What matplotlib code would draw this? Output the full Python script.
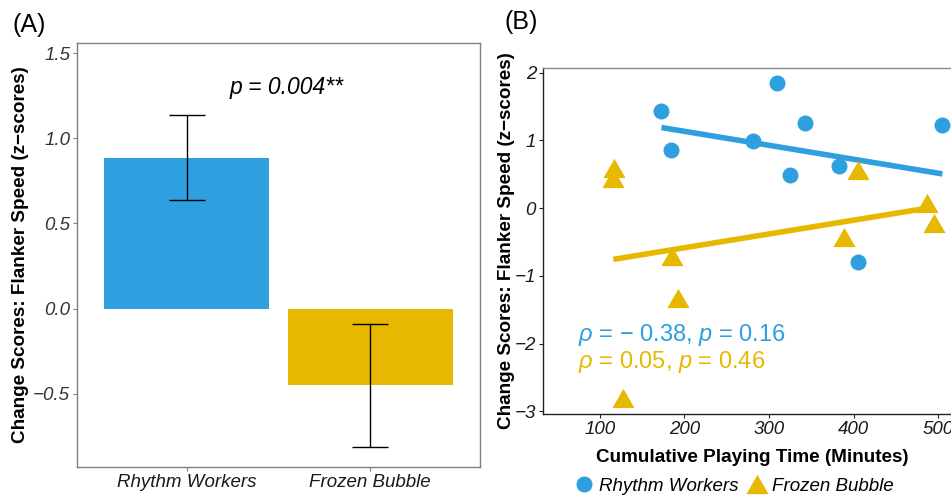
import numpy as np
import matplotlib
matplotlib.use("Agg")
import matplotlib.pyplot as plt
from matplotlib.lines import Line2D

plt.rcParams['font.family'] = ['Liberation Sans', 'DejaVu Sans']
plt.rcParams['mathtext.fontset'] = 'custom'
plt.rcParams['mathtext.rm'] = 'Liberation Sans'
plt.rcParams['mathtext.it'] = 'Liberation Sans:italic'
plt.rcParams['mathtext.bf'] = 'Liberation Sans:bold'

# ---- data ----
groups = ["Rhythm Workers", "Frozen Bubble"]
bar_means = [0.883, -0.45]
err_low = [0.637, -0.81]
err_high = [1.14, -0.088]

rw_time = [173, 184, 281, 309, 343, 325, 383, 505, 405]
rw_score = [1.43, 0.86, 0.99, 1.85, 1.26, 0.49, 0.62, 1.23, -0.80]
fb_time = [117, 116, 405, 487, 495, 389, 186, 192, 128]
fb_score = [0.59, 0.44, 0.56, 0.07, -0.22, -0.43, -0.70, -1.32, -2.80]

blue = "#2E9FDF"
gold = "#E7B800"

fig = plt.figure(figsize=(9.51, 4.98), dpi=100)
W, H = 951, 498

def ax_rect(l, t, r, b):
    return [l / W, 1 - b / H, (r - l) / W, (b - t) / H]

TICK = 13.5
LAB = 13.6

# ---- Panel A ----
axA = fig.add_axes(ax_rect(77, 43, 480, 467))
x = np.arange(len(groups))
axA.bar(x, bar_means, width=0.9, color=[blue, gold], zorder=2)
yerr = [np.array(bar_means) - np.array(err_low), np.array(err_high) - np.array(bar_means)]
axA.errorbar(x, bar_means, yerr=yerr, fmt='none', ecolor='black', elinewidth=1.0,
             capsize=13, capthick=1.0, zorder=3)
axA.set_xlim(-0.6, 1.6)
axA.set_ylim(-0.93, 1.56)
axA.set_xticks(x)
axA.set_xticklabels(groups, fontsize=TICK, fontstyle='italic', color='#1a1a1a')
axA.set_yticks([-0.5, 0.0, 0.5, 1.0, 1.5])
axA.set_yticklabels(['\u22120.5', '0.0', '0.5', '1.0', '1.5'], fontsize=TICK,
                    fontstyle='italic', color='#333333')
for s in axA.spines.values():
    s.set_color('#7f7f7f')
    s.set_linewidth(1.0)
axA.tick_params(axis='both', length=3, width=0.8, color='#7f7f7f', pad=2)
axA.set_ylabel('Change Scores: Flanker Speed (z\u2212scores)', fontsize=LAB,
               fontweight='bold', labelpad=3)
axA.text(0.545, 1.3, 'p = 0.004**', fontsize=16.5, fontstyle='italic', ha='center',
         va='center')
fig.text(13 / W, 1 - 25 / H, '(A)', fontsize=18, va='center', ha='left')

# ---- Panel B ----
axB = fig.add_axes(ax_rect(543, 68, 961, 414))
axB.plot(rw_time, rw_score, 'o', color=blue, markersize=11.5, markeredgewidth=0,
         zorder=3)
tri = [(-1, -0.866), (1, -0.866), (0, 0.866)]
axB.plot(fb_time, fb_score, linestyle='none', marker=tri, color=gold,
         markersize=16, markeredgewidth=0, zorder=3)
for xs, ys, c in [(rw_time, rw_score, blue), (fb_time, fb_score, gold)]:
    xs = np.array(xs, float); ys = np.array(ys, float)
    k, b0 = np.polyfit(xs, ys, 1)
    xx = np.array([xs.min(), xs.max()])
    axB.plot(xx, k * xx + b0, color=c, linewidth=4.0, solid_capstyle='butt', zorder=2)
axB.set_xlim(33, 527)
axB.set_ylim(-3.04, 2.07)
axB.set_xticks([100, 200, 300, 400, 500])
axB.set_xticklabels(['100', '200', '300', '400', '500'], fontsize=TICK,
                    fontstyle='italic', color='#1a1a1a')
axB.set_yticks([-3, -2, -1, 0, 1, 2])
axB.set_yticklabels(['\u22123', '\u22122', '\u22121', '0', '1', '2'], fontsize=TICK,
                    fontstyle='italic', color='#1a1a1a')
axB.spines['top'].set_color('#8a8a8a')
axB.spines['left'].set_color('#222222')
axB.spines['bottom'].set_color('#222222')
for s in axB.spines.values():
    s.set_linewidth(1.0)
axB.tick_params(axis='both', length=3, width=0.8, color='#222222', pad=2)
axB.set_xlabel('Cumulative Playing Time (Minutes)', fontsize=LAB, fontweight='bold',
               labelpad=8)
axB.set_ylabel('Change Scores: Flanker Speed (z\u2212scores)', fontsize=LAB,
               fontweight='bold', labelpad=0)
axB.text(0.083, 0.228, r'$\rho$ = $-$ 0.38, $p$ = 0.16', transform=axB.transAxes,
         color=blue, fontsize=17, ha='left', va='center')
axB.text(0.083, 0.150, r'$\rho$ = 0.05, $p$ = 0.46', transform=axB.transAxes,
         color=gold, fontsize=17, ha='left', va='center')
fig.text(505 / W, 1 - 22 / H, '(B)', fontsize=18, va='center', ha='left')

handles = [
    Line2D([], [], linestyle='none', marker='o', color=blue, markersize=11.5,
           markeredgewidth=0),
    Line2D([], [], linestyle='none', marker=tri, color=gold, markersize=16,
           markeredgewidth=0),
]
fig.legend(handles, groups, loc='center', bbox_to_anchor=(734 / W, 1 - 486 / H),
           ncol=2, frameon=False, prop={'size': TICK, 'style': 'italic'},
           handlelength=1.0, handletextpad=0.3, columnspacing=0.5,
           borderaxespad=0, borderpad=0)

fig.savefig('out.png', dpi=100)
